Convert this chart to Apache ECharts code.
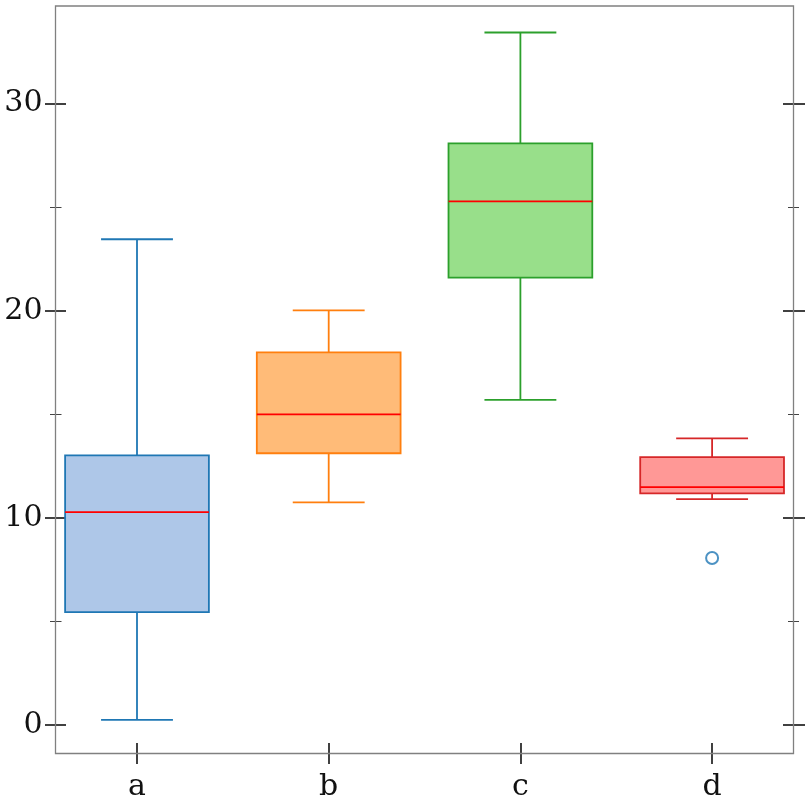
<!DOCTYPE html>
<html>
<head>
<meta charset="utf-8">
<script src="https://cdn.jsdelivr.net/npm/echarts@6/dist/echarts.min.js"></script>
<style>
  html, body { margin: 0; padding: 0; background: #fff; }
  #main { width: 812px; height: 812px; }
</style>
</head>
<body>
<div id="main"></div>
<script>
// 箱线图数据
var categories = ['a', 'b', 'c', 'd']
var whiskerLow = [0.25, 10.75, 15.7, 10.9]
var q1 = [5.45, 13.12, 21.6, 11.18]
var medians = [10.28, 15.0, 25.28, 11.48]
var q3 = [13.02, 17.99, 28.08, 12.93]
var whiskerHigh = [23.45, 20.02, 33.43, 13.84]
var outliers = [[3, 8.06]]
var yTicks = [0, 10, 20, 30]

var fills = ['#aec7e8', '#ffbb78', '#98df8a', '#ff9896']
var edges = ['#1f77b4', '#ff7f0e', '#2ca02c', '#d62728']

var boxData = categories.map(function (c, i) {
  return [i, whiskerLow[i], q1[i], medians[i], q3[i], whiskerHigh[i]]
})

var chart = echarts.init(document.getElementById('main'), null, { renderer: 'canvas' })

var font = 'DejaVu Serif'
var band = 191.7
// grid 比边框宽，类别间距与原图一致
var gridLeft = 137 - band / 2
var gridRight = 812 - (gridLeft + band * 4)
var zeroY = 725
var gridTop = 0
var gridBottom = 812 - zeroY

function yAxisCfg(position, offset, inside, majorLen, minorLen, labels) {
  return {
    type: 'value',
    position: position,
    offset: offset,
    min: 0,
    max: 35,
    interval: 10,
    axisLine: { show: false },
    splitLine: { show: false },
    axisTick: { show: true, inside: inside, length: majorLen, customValues: yTicks, lineStyle: { color: '#111', width: 1.6 } },
    minorTick: { show: true, splitNumber: 2, length: minorLen, lineStyle: { color: '#444', width: 1 } },
    axisLabel: {
      show: labels,
      margin: 13,
      fontFamily: font,
      fontSize: 30,
      color: '#111',
      customValues: yTicks
    }
  }
}

function xAxisCfg(inside, labels) {
  return {
    type: 'category',
    position: 'bottom',
    offset: 753.5 - zeroY,
    data: categories,
    boundaryGap: true,
    axisLine: { show: false, onZero: false },
    splitLine: { show: false },
    axisTick: { show: true, inside: inside, alignWithLabel: true, length: 10.5, lineStyle: { color: '#111', width: 1.6 } },
    axisLabel: { show: labels, margin: 19, fontFamily: font, fontSize: 30, color: '#111' }
  }
}

function renderBox(params, api) {
  var i = api.value(0)
  var w = api.size([1, 0])[0]
  var boxW = w * 0.75
  var capW = w * 0.375
  var pLow = api.coord([i, api.value(1)])
  var pQ1 = api.coord([i, api.value(2)])
  var pMed = api.coord([i, api.value(3)])
  var pQ3 = api.coord([i, api.value(4)])
  var pHigh = api.coord([i, api.value(5)])
  var cx = pQ1[0]
  var edge = edges[i]
  var lineStyle = { stroke: edge, lineWidth: 1.8 }
  return {
    type: 'group',
    children: [
      { type: 'line', shape: { x1: cx, y1: pLow[1], x2: cx, y2: pQ1[1] }, style: lineStyle },
      { type: 'line', shape: { x1: cx, y1: pQ3[1], x2: cx, y2: pHigh[1] }, style: lineStyle },
      { type: 'line', shape: { x1: cx - capW / 2, y1: pLow[1], x2: cx + capW / 2, y2: pLow[1] }, style: lineStyle },
      { type: 'line', shape: { x1: cx - capW / 2, y1: pHigh[1], x2: cx + capW / 2, y2: pHigh[1] }, style: lineStyle },
      {
        type: 'rect',
        shape: { x: cx - boxW / 2, y: pQ3[1], width: boxW, height: pQ1[1] - pQ3[1] },
        style: { fill: fills[i], stroke: edge, lineWidth: 1.8 }
      },
      { type: 'line', shape: { x1: cx - boxW / 2, y1: pMed[1], x2: cx + boxW / 2, y2: pMed[1] }, style: { stroke: '#ff0000', lineWidth: 1.8 } }
    ]
  }
}

var option = {
  animation: false,
  backgroundColor: '#fff',
  grid: { left: gridLeft, right: gridRight, top: gridTop, bottom: gridBottom },
  xAxis: [xAxisCfg(false, true), xAxisCfg(true, false)],
  yAxis: [
    yAxisCfg('left', -(55.5 - gridLeft), false, 10.5, 5.5, true),
    yAxisCfg('left', -(55.5 - gridLeft), true, 10.5, 6, false),
    yAxisCfg('right', -(gridLeft + band * 4 - 793.5), false, 11.5, 5.5, false),
    yAxisCfg('right', -(gridLeft + band * 4 - 793.5), true, 10.5, 5.5, false)
  ],
  graphic: [{
    type: 'rect',
    shape: { x: 55.5, y: 6, width: 738, height: 747.5 },
    style: { fill: 'none', stroke: '#808080', lineWidth: 1.3 },
    z: 10
  }],
  series: [
    {
      type: 'custom',
      renderItem: renderBox,
      encode: { x: 0, y: [1, 2, 3, 4, 5] },
      data: boxData
    },
    {
      type: 'scatter',
      symbol: 'emptyCircle',
      symbolSize: 12,
      itemStyle: { color: '#1f77b4', borderColor: '#1f77b4', borderWidth: 2 },
      data: outliers
    }
  ]
}

chart.setOption(option)
</script>
</body>
</html>
